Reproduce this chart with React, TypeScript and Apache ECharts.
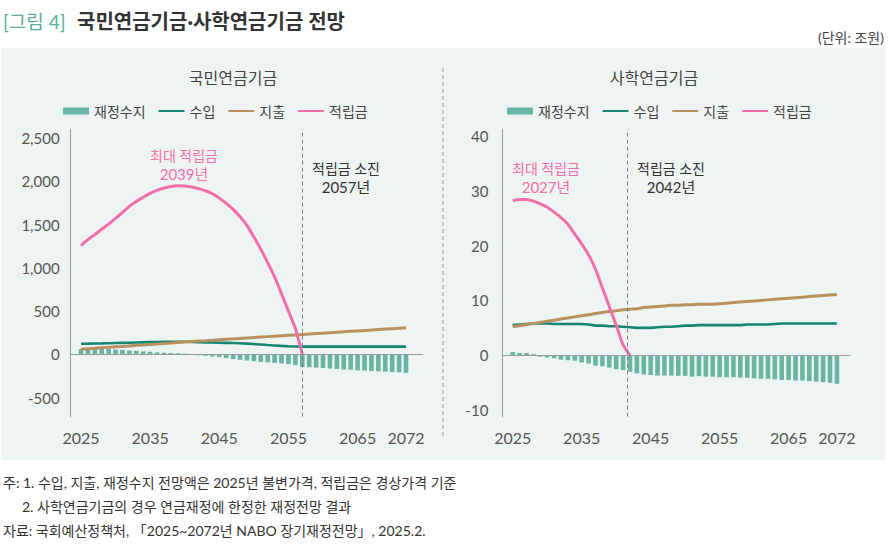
import { useEffect, useRef } from 'react';
import * as echarts from 'echarts';

const years = [
  2025, 2026, 2027, 2028, 2029, 2030, 2031, 2032, 2033, 2034, 2035, 2036,
  2037, 2038, 2039, 2040, 2041, 2042, 2043, 2044, 2045, 2046, 2047, 2048,
  2049, 2050, 2051, 2052, 2053, 2054, 2055, 2056, 2057, 2058, 2059, 2060,
  2061, 2062, 2063, 2064, 2065, 2066, 2067, 2068, 2069, 2070, 2071, 2072,
];
const xTickLabels = [2025, 2035, 2045, 2055, 2065, 2072];
const seriesNames = ['재정수지', '수입', '지출', '적립금'];

// 국민연금기금 (조원)
const npsBalance = [
  62, 52, 60, 64, 62, 56, 53, 46, 41, 35, 30, 24,
  19, 16, 12, 8, 4, -10, -16, -25, -31, -43, -54, -63,
  -72, -79, -86, -92, -99, -104, -112, -124, -145, -148, -153, -158,
  -164, -168, -175, -178, -184, -187, -192, -195, -200, -204, -207, -214,
];
const npsIncome = [
  123, 124, 126, 127, 129, 131, 133, 135, 137, 139, 141, 143,
  144, 145, 146, 146, 144, 140, 138, 137, 135, 133, 131, 128,
  124, 119, 114, 108, 103, 98, 94, 91, 89, 89, 89, 89,
  89, 89, 90, 90, 90, 90, 90, 90, 90, 90, 90, 90,
];
const npsExpenditure = [
  60, 65, 70, 76, 81, 87, 92, 98, 104, 109, 115, 120,
  126, 131, 137, 142, 148, 154, 158, 163, 169, 174, 179, 184,
  189, 194, 200, 205, 210, 215, 220, 225, 230, 234, 240, 245,
  250, 255, 261, 266, 271, 276, 281, 287, 292, 297, 302, 307,
];
const npsReserve = [
  1256, 1325, 1383, 1445, 1505, 1570, 1640, 1710, 1765, 1815, 1860, 1895,
  1922, 1940, 1948, 1945, 1934, 1915, 1890, 1855, 1805, 1745, 1675, 1590,
  1490, 1355, 1215, 1060, 895, 700, 500, 300, 0,
];

// 사학연금기금 (조원)
const tpBalance = [
  0.6, 0.4, 0.4, 0.2, -0.25, -0.4, -0.55, -0.8, -0.9, -1.0, -1.3, -1.5,
  -1.9, -2.0, -2.25, -2.55, -2.7, -3.0, -3.3, -3.5, -3.6, -3.7, -3.7, -3.7,
  -3.75, -3.75, -3.9, -3.8, -3.9, -3.9, -4.0, -4.0, -4.0, -4.1, -4.1, -4.2,
  -4.3, -4.3, -4.4, -4.5, -4.5, -4.6, -4.6, -4.7, -4.8, -4.9, -5.0, -5.2,
];
const tpIncome = [
  5.5, 5.6, 5.7, 5.8, 5.8, 5.8, 5.7, 5.7, 5.7, 5.7, 5.7, 5.6,
  5.4, 5.4, 5.3, 5.3, 5.2, 5.1, 5.0, 5.0, 5.0, 5.1, 5.2, 5.2,
  5.3, 5.4, 5.4, 5.5, 5.5, 5.5, 5.5, 5.5, 5.5, 5.5, 5.6, 5.6,
  5.6, 5.6, 5.7, 5.8, 5.8, 5.8, 5.8, 5.8, 5.8, 5.8, 5.8, 5.8,
];
const tpExpenditure = [
  5.2, 5.4, 5.6, 5.8, 6.0, 6.2, 6.4, 6.6, 6.8, 7.0, 7.2, 7.4,
  7.6, 7.8, 8.0, 8.1, 8.3, 8.4, 8.5, 8.7, 8.8, 8.9, 9.0, 9.1,
  9.1, 9.2, 9.2, 9.3, 9.3, 9.3, 9.4, 9.5, 9.6, 9.7, 9.8, 9.9,
  10.0, 10.1, 10.2, 10.3, 10.4, 10.5, 10.6, 10.7, 10.8, 10.9, 11.0, 11.1,
];
const tpReserve = [
  28.2, 28.4, 28.4, 28.1, 27.6, 27.0, 26.1, 25.1, 23.9, 22.1, 20.3, 18.3,
  15.7, 12.3, 8.9, 5.5, 1.9, 0,
];

const npsYTickStep = 500;
const tpYTickStep = 10;

const COLORS = {
  balance: '#6AB4A4',
  income: '#178570',
  expenditure: '#B8915F',
  reserve: '#F06FA8',
};
const FONT = "Lato, 'Noto Sans CJK KR', sans-serif";

const pairs = (vals: number[]) => vals.map((v, i) => [years[i], v]);

function buildSeries(
  idx: number,
  balance: number[],
  income: number[],
  expenditure: number[],
  reserve: number[],
  depletionX: number
) {
  return [
    {
      name: seriesNames[0],
      type: 'bar',
      xAxisIndex: idx,
      yAxisIndex: idx,
      data: pairs(balance),
      barWidth: 4.6,
      itemStyle: { color: COLORS.balance },
      markLine: {
        silent: true,
        symbol: ['none', 'none'],
        label: { show: false },
        data: [
          { yAxis: 0, lineStyle: { color: '#9A9A9A', width: 1, type: 'solid' } },
          { xAxis: depletionX, lineStyle: { color: '#808080', width: 1, type: [4, 3] } },
        ],
      },
    },
    {
      name: seriesNames[1],
      type: 'line',
      xAxisIndex: idx,
      yAxisIndex: idx,
      data: pairs(income),
      symbol: 'none',
      lineStyle: { color: COLORS.income, width: 2.6 },
      itemStyle: { color: COLORS.income },
    },
    {
      name: seriesNames[2],
      type: 'line',
      xAxisIndex: idx,
      yAxisIndex: idx,
      data: pairs(expenditure),
      symbol: 'none',
      lineStyle: { color: COLORS.expenditure, width: 3 },
      itemStyle: { color: COLORS.expenditure },
    },
    {
      name: seriesNames[3],
      type: 'line',
      xAxisIndex: idx,
      yAxisIndex: idx,
      data: pairs(reserve),
      symbol: 'none',
      smooth: 0.2,
      lineStyle: { color: COLORS.reserve, width: 3 },
      itemStyle: { color: COLORS.reserve },
    },
  ];
}

const xAxisBase = (gridIndex: number, min: number, max: number) => ({
  type: 'value',
  gridIndex,
  min,
  max,
  interval: 0.5,
  axisLine: { show: false },
  axisTick: { show: false },
  splitLine: { show: false },
  axisLabel: {
    margin: 13,
    fontFamily: FONT,
    fontSize: 16,
    color: '#555',
    formatter: (v: number) => (xTickLabels.includes(v) ? String(v) : ''),
  },
});

const hiddenSymbol = { opacity: 0, color: 'rgba(0,0,0,0)', borderWidth: 0 };

const legendBase = (left: number) => ({
  left,
  top: 104,
  padding: 0,
  itemWidth: 26,
  itemHeight: 7,
  itemGap: 12,
  textStyle: { fontFamily: FONT, fontSize: 14, color: '#444' },
  data: [
    { name: seriesNames[0], icon: 'rect' },
    { name: seriesNames[1], itemStyle: hiddenSymbol },
    { name: seriesNames[2], itemStyle: hiddenSymbol },
    { name: seriesNames[3], itemStyle: hiddenSymbol },
  ],
});

const txt = (
  x: number,
  y: number,
  text: string,
  fill: string,
  fontSize: number,
  align = 'center',
  fontWeight: string = 'normal'
) => ({
  type: 'text',
  x,
  y,
  z: 10,
  style: {
    text,
    fill,
    fontSize,
    fontWeight,
    fontFamily: FONT,
    textAlign: align,
    align,
    textVerticalAlign: 'middle',
    verticalAlign: 'middle',
  },
});

export default function App() {
  const ref = useRef<HTMLDivElement>(null);

  useEffect(() => {
    if (!ref.current) return;
    const chart = echarts.init(ref.current, undefined, { renderer: 'svg' });
    const option = {
      animation: false,
      backgroundColor: '#FFFFFF',
      grid: [
        { left: 70.6, top: 129.3, width: 352.7, height: 287.4 },
        { left: 502.35, top: 129.3, width: 348.35, height: 287.4 },
      ],
      legend: [legendBase(63), legendBase(507)],
      xAxis: [xAxisBase(0, 2023.5, 2074.5), xAxisBase(1, 2023.5, 2074)],
      yAxis: [
        {
          type: 'value',
          gridIndex: 0,
          min: -720,
          max: 2600,
          interval: 20,
          axisLine: { show: true, onZero: false, lineStyle: { color: '#999', width: 1 } },
          axisTick: { show: false },
          splitLine: { show: false },
          axisLabel: {
            margin: 11,
            fontFamily: FONT,
            fontSize: 15,
            color: '#555',
            padding: [0, 0, 7, 0],
            formatter: (v: number) =>
              v % npsYTickStep === 0 ? v.toLocaleString('en-US') : '',
          },
        },
        {
          type: 'value',
          gridIndex: 1,
          min: -11.2,
          max: 41.2,
          interval: 0.4,
          axisLine: { show: true, onZero: false, lineStyle: { color: '#999', width: 1 } },
          axisTick: { show: false },
          splitLine: { show: false },
          axisLabel: {
            margin: 14,
            fontFamily: FONT,
            fontSize: 15,
            color: '#555',
            padding: [0, 0, 3, 0],
            formatter: (v: number) =>
              Math.abs(v / tpYTickStep - Math.round(v / tpYTickStep)) < 1e-6
                ? String(Math.round(v))
                : '',
          },
        },
      ],
      series: [
        ...buildSeries(0, npsBalance, npsIncome, npsExpenditure, npsReserve, 2057),
        ...buildSeries(1, tpBalance, tpIncome, tpExpenditure, tpReserve, 2041.55),
      ],
      graphic: [
        {
          type: 'rect',
          z: -10,
          shape: { x: 1, y: 48, width: 884, height: 412 },
          style: { fill: '#EEF4F1' },
        },
        {
          type: 'line',
          z: 1,
          shape: { x1: 443, y1: 68, x2: 443, y2: 438 },
          style: { stroke: '#9A9A9A', lineWidth: 1, lineDash: [4, 3] },
        },
        txt(3, 21, '[그림 4]', '#5BAE9C', 19, 'left'),
        txt(77, 21, '국민연금기금·사학연금기금 전망', '#333333', 20, 'left', 'bold'),
        txt(884, 37, '(단위: 조원)', '#444444', 14, 'right'),
        txt(233, 77, '국민연금기금', '#444444', 16),
        txt(654, 77, '사학연금기금', '#444444', 16),
        txt(184, 155, '최대 적립금', COLORS.reserve, 14),
        txt(184, 173.5, '2039년', COLORS.reserve, 15),
        txt(346, 168.5, '적립금 소진', '#333333', 14),
        txt(346, 186.5, '2057년', '#333333', 15),
        txt(546, 168.3, '최대 적립금', COLORS.reserve, 14),
        txt(546, 186.7, '2027년', COLORS.reserve, 15),
        txt(671, 168.3, '적립금 소진', '#333333', 14),
        txt(671, 186.7, '2042년', '#333333', 15),
        txt(3, 482.5, '주: 1. 수입, 지출, 재정수지 전망액은 2025년 불변가격, 적립금은 경상가격 기준', '#333333', 14, 'left'),
        txt(22, 506, '2. 사학연금기금의 경우 연금재정에 한정한 재정전망 결과', '#333333', 14, 'left'),
        txt(3, 530, '자료: 국회예산정책처, 「2025~2072년 NABO 장기재정전망」, 2025.2.', '#333333', 14, 'left'),
      ],
    };
    chart.setOption(option as any);
    return () => {
      chart.dispose();
    };
  }, []);

  return (
    <div
      ref={ref}
      style={{ position: 'fixed', left: 0, top: 0, width: 889, height: 551 }}
    />
  );
}
